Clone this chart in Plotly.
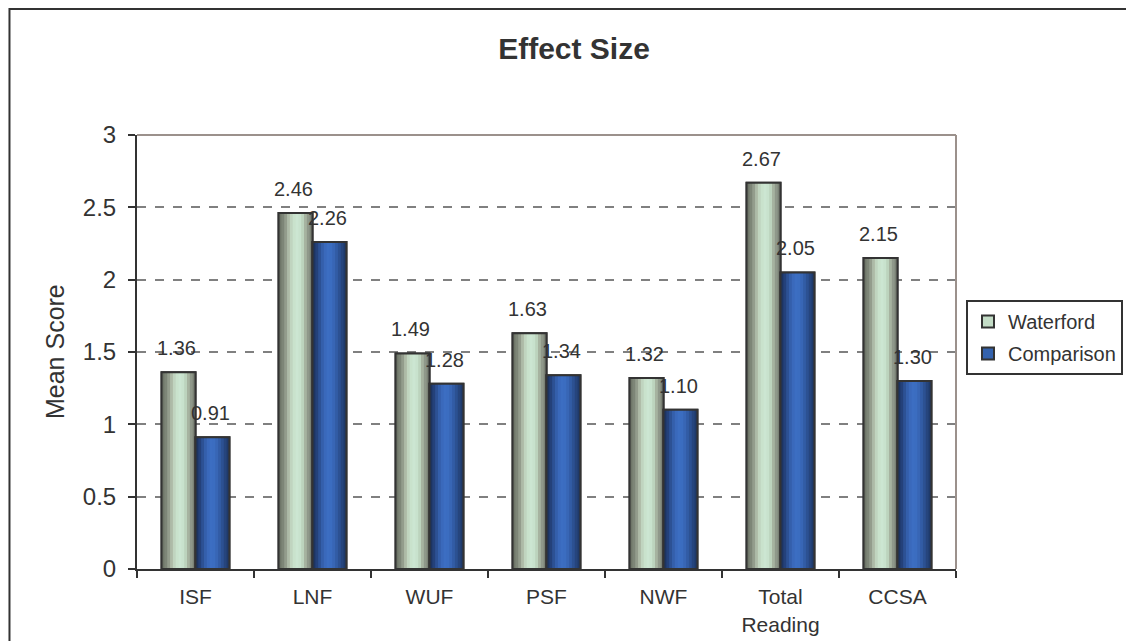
import plotly.graph_objects as go

# Chart data
categories = ["ISF", "LNF", "WUF", "PSF", "NWF", "Total<br>Reading", "CCSA"]
waterford = [1.36, 2.46, 1.49, 1.63, 1.32, 2.67, 2.15]
comparison = [0.91, 2.26, 1.28, 1.34, 1.10, 2.05, 1.30]
y_ticks = [0, 0.5, 1, 1.5, 2, 2.5, 3]

# Styling
FONT = "Liberation Sans, Arial, sans-serif"
TEXT = "#333333"
BAR_W = 0.29  # bar width in category units

# cylinder-like shading across each bar (left -> right)
wf_shades = ["#6f7669", "#7d8577", "#939c8c", "#adbaa7", "#c0d4bf", "#c9e2cc",
             "#cce6d2", "#c8e2cd", "#bcd3bd", "#a6b3a0", "#8f988a", "#7a8175"]
cp_shades = ["#1d3461", "#24417a", "#2d5194", "#345fab", "#3a69bb", "#3c6ec2",
             "#3b6dc0", "#3866b5", "#325ca5", "#2c5192", "#26457d", "#1f3a6a"]

fig = go.Figure()


def add_series(name, values, shades, base_offset, legend_color):
    # solid bar carrying the legend entry
    fig.add_trace(go.Bar(
        x=categories, y=values, name=name, legendgroup=name,
        width=BAR_W, offset=base_offset,
        marker=dict(color=legend_color, line=dict(color=TEXT, width=2)),
        hoverinfo="skip",
    ))
    n = len(shades)
    step = BAR_W / n
    for i, c in enumerate(shades):
        w = step * 1.35 if i < n - 1 else step
        fig.add_trace(go.Bar(
            x=categories, y=values, width=w, offset=base_offset + i * step,
            marker=dict(color=c, line=dict(width=0)),
            showlegend=False, legendgroup=name, hoverinfo="skip",
        ))
    # outline on top of the shading
    fig.add_trace(go.Bar(
        x=categories, y=values, width=BAR_W, offset=base_offset,
        marker=dict(color="rgba(0,0,0,0)", line=dict(color=TEXT, width=2)),
        showlegend=False, legendgroup=name, hoverinfo="skip",
    ))


add_series("Waterford", waterford, wf_shades, -BAR_W, "#c3dcc6")
add_series("Comparison", comparison, cp_shades, 0.0, "#3462ad")

# value labels above each bar
annotations = []
for cat, v in zip(categories, waterford):
    annotations.append(dict(x=cat, y=v, xref="x", yref="y", text=f"{v:.2f}",
                            showarrow=False, xshift=-19, yshift=24,
                            yanchor="middle", font=dict(size=20, color=TEXT, family=FONT)))
for cat, v in zip(categories, comparison):
    annotations.append(dict(x=cat, y=v, xref="x", yref="y", text=f"{v:.2f}",
                            showarrow=False, xshift=15, yshift=24,
                            yanchor="middle", font=dict(size=20, color=TEXT, family=FONT)))

# y-axis title
annotations.append(dict(x=-0.1001, y=0.5, xref="paper", yref="paper", text="Mean Score",
                        textangle=-90, showarrow=False, xanchor="center", yanchor="middle",
                        font=dict(size=25, color=TEXT, family=FONT)))

shapes = [
    # plot-area top and right edges
    dict(type="line", xref="paper", yref="paper", x0=0, x1=1, y0=1, y1=1,
         line=dict(color="#9b918c", width=2), layer="above"),
    dict(type="line", xref="paper", yref="paper", x0=1, x1=1, y0=0, y1=1,
         line=dict(color="#9b918c", width=2), layer="above"),
    # outer chart frame
    dict(type="rect", xref="paper", yref="paper", x0=-0.1557, x1=1.3, y0=-0.3, y1=1.2903,
         line=dict(color=TEXT, width=2), fillcolor="rgba(0,0,0,0)", layer="below"),
]

fig.update_layout(
    width=1126, height=641,
    margin=dict(l=137, r=170, t=135, b=72, autoexpand=False),
    paper_bgcolor="white", plot_bgcolor="white",
    barmode="overlay",
    font=dict(family=FONT, color=TEXT),
    title=dict(text="<b>Effect Size</b>", x=574 / 1126, xref="container", xanchor="center",
               y=1 - 48 / 641, yref="container", yanchor="middle",
               font=dict(size=30, color=TEXT, family=FONT)),
    legend=dict(x=966 / 1126, y=1 - 300 / 641, xref="container", yref="container",
                xanchor="left", yanchor="top",
                bordercolor=TEXT, borderwidth=2, bgcolor="white",
                font=dict(size=20, color=TEXT, family=FONT),
                traceorder="grouped", tracegroupgap=3, itemwidth=30),
    annotations=annotations,
    shapes=shapes,
    showlegend=True,
)

fig.update_xaxes(
    type="category", categoryorder="array", categoryarray=categories,
    showline=True, linecolor=TEXT, linewidth=2,
    ticks="outside", tickson="boundaries", ticklen=7, tickwidth=2, tickcolor=TEXT,
    tickfont=dict(size=21, color=TEXT, family=FONT),
    ticklabelstandoff=8,
    showgrid=False, zeroline=False,
)

fig.update_yaxes(
    range=[0, 3], tickvals=y_ticks, ticktext=[f"{t:g}" for t in y_ticks],
    showline=True, linecolor=TEXT, linewidth=2,
    ticks="outside", ticklen=7, tickwidth=2, tickcolor=TEXT,
    tickfont=dict(size=24, color=TEXT, family=FONT),
    ticklabelstandoff=7,
    showgrid=True, gridcolor="#808080", gridwidth=1.5, griddash="dash",
    zeroline=False,
)

fig.write_html("out.html")
